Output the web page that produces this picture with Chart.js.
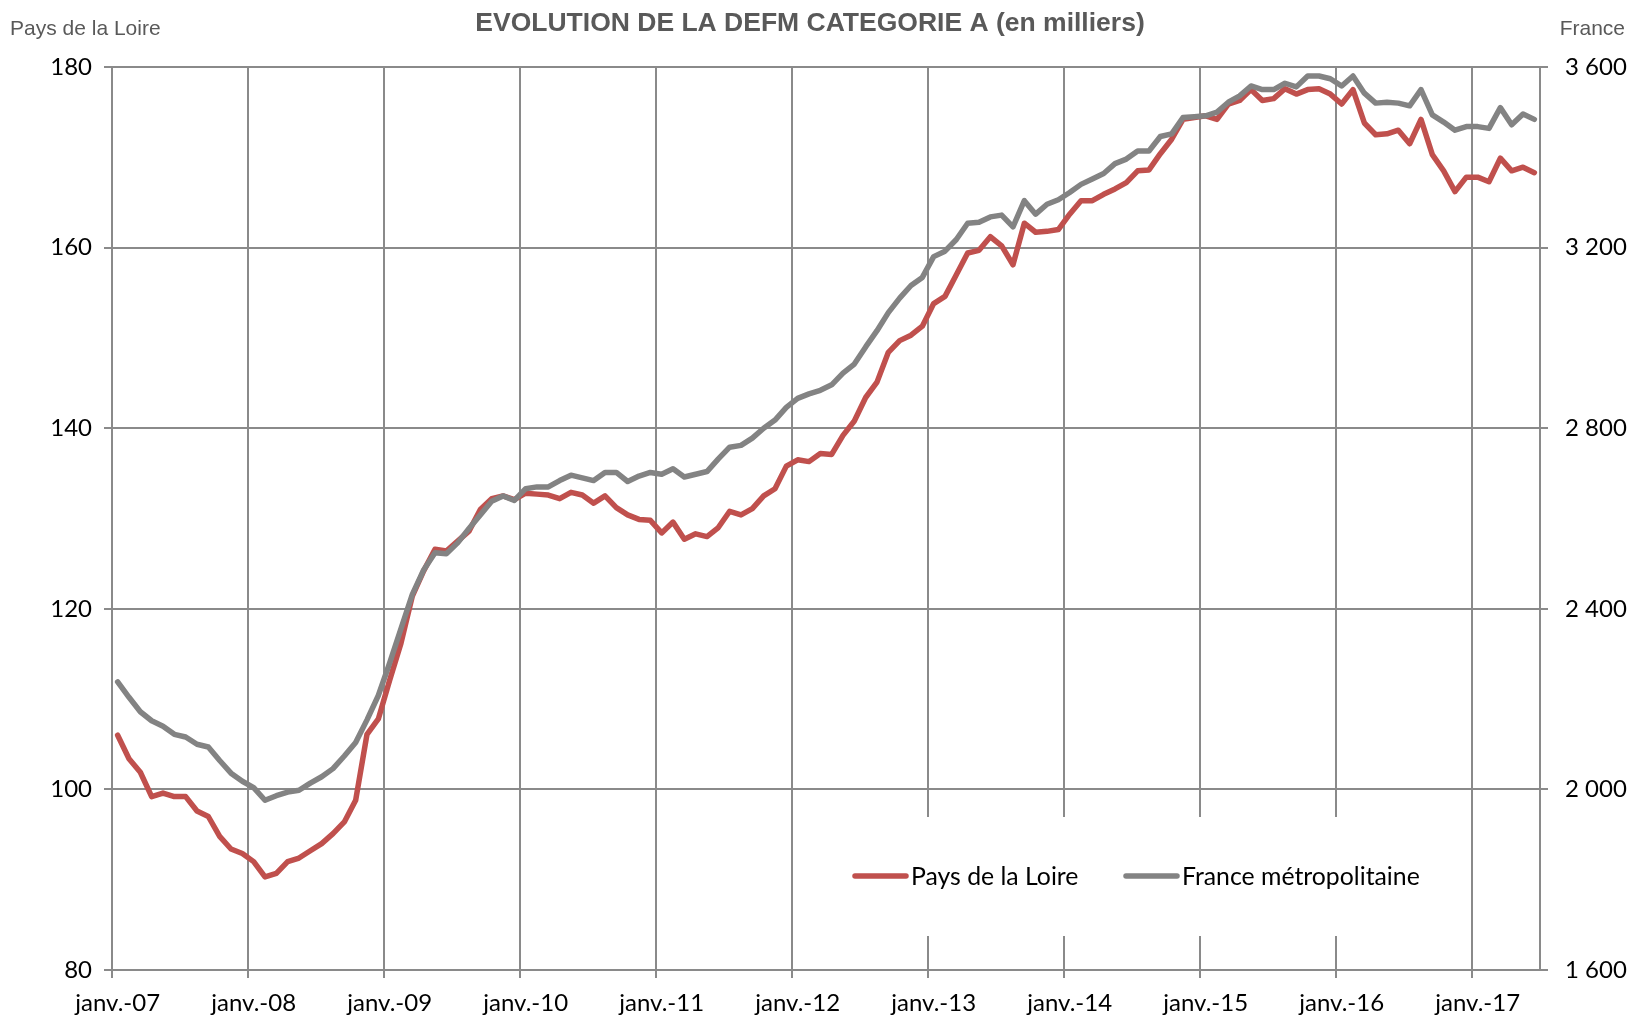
<!DOCTYPE html>
<html>
<head>
<meta charset="utf-8">
<script src="https://cdn.jsdelivr.net/npm/chart.js@4.4.1/dist/chart.umd.min.js"></script>
<style>
  html, body { margin: 0; padding: 0; background: #fff; }
  canvas { display: block; }
</style>
</head>
<body>
<canvas id="chart" width="1631" height="1017"></canvas>
<script>
// Month names and years used to build the category labels
const monthNames = ['janv.', 'févr.', 'mars', 'avr.', 'mai', 'juin', 'juil.', 'août', 'sept.', 'oct.', 'nov.', 'déc.'];
const yearSuffixes = ['07', '08', '09', '10', '11', '12', '13', '14', '15', '16', '17'];

// DEFM catégorie A, Pays de la Loire (milliers), janv.-07 to juin-17
const paysDeLaLoire = [
  106.0, 103.4, 101.9, 99.2, 99.6, 99.2, 99.2, 97.6, 97.0, 94.8, 93.4, 92.9,
  92.0, 90.3, 90.7, 92.0, 92.4, 93.2, 94.0, 95.1, 96.4, 98.8, 106.1, 107.8,
  112.1, 116.2, 121.4, 124.2, 126.6, 126.4, 127.5, 128.6, 131.0, 132.2, 132.5, 132.1,
  132.8, 132.7, 132.6, 132.2, 132.9, 132.6, 131.7, 132.5, 131.2, 130.4, 129.9, 129.8,
  128.4, 129.6, 127.7, 128.3, 128.0, 129.0, 130.8, 130.4, 131.1, 132.5, 133.3, 135.8,
  136.5, 136.3, 137.2, 137.1, 139.2, 140.8, 143.4, 145.1, 148.4, 149.7, 150.3, 151.3,
  153.8, 154.6, 157.0, 159.4, 159.7, 161.2, 160.2, 158.1, 162.7, 161.7, 161.8, 162.0,
  163.7, 165.2, 165.2, 165.9, 166.5, 167.2, 168.5, 168.6, 170.4, 172.0, 174.2, 174.4,
  174.6, 174.2, 175.9, 176.3, 177.5, 176.3, 176.5, 177.6, 177.0, 177.5, 177.6, 177.0,
  175.9, 177.5, 173.8, 172.5, 172.6, 173.0, 171.5, 174.2, 170.3, 168.5, 166.2, 167.8,
  167.8, 167.3, 169.9, 168.5, 168.9, 168.3
];

// DEFM catégorie A, France métropolitaine (milliers)
const franceMetro = [
  2238, 2204, 2172, 2152, 2140, 2122, 2116, 2100, 2094, 2064, 2036, 2018,
  2004, 1976, 1986, 1994, 1998, 2014, 2028, 2046, 2074, 2104, 2154, 2208,
  2280, 2356, 2432, 2486, 2524, 2522, 2546, 2578, 2608, 2638, 2650, 2640,
  2666, 2670, 2670, 2684, 2696, 2690, 2684, 2702, 2702, 2682, 2694, 2702,
  2698, 2710, 2692, 2698, 2704, 2732, 2758, 2762, 2778, 2800, 2818, 2846,
  2866, 2876, 2884, 2896, 2922, 2942, 2980, 3016, 3056, 3088, 3116, 3134,
  3180, 3192, 3218, 3254, 3256, 3268, 3272, 3246, 3304, 3274, 3296, 3306,
  3322, 3340, 3352, 3364, 3386, 3396, 3414, 3414, 3446, 3452, 3488, 3490,
  3492, 3500, 3522, 3536, 3558, 3550, 3550, 3564, 3556, 3580, 3580, 3574,
  3558, 3580, 3542, 3520, 3522, 3520, 3514, 3550, 3494, 3478, 3460, 3468,
  3468, 3464, 3510, 3472, 3496, 3484
];

// Axis tick values
const leftTicks = [80, 100, 120, 140, 160, 180];
const rightTicks = [1600, 2000, 2400, 2800, 3200, 3600];

const allMonths = [];
yearSuffixes.forEach(y => monthNames.forEach(m => allMonths.push(m + '-' + y)));
const months = allMonths.slice(0, paysDeLaLoire.length);

const RED = '#C0504D';
const GREY = '#838383';
const GRID = '#8a8a8a';
const TICK_FONT = { family: 'Lato', size: 24 };

function formatThousands(v) {
  return String(v).replace(/\B(?=(\d{3})+(?!\d))/g, ' ');
}

// Title, axis captions and the legend box drawn over the plot
const decorations = {
  id: 'decorations',
  afterDraw(chart) {
    const ctx = chart.ctx;
    ctx.save();
    ctx.fillStyle = '#595959';
    ctx.textBaseline = 'middle';
    ctx.font = 'bold 26.5px "Liberation Sans"';
    ctx.textAlign = 'center';
    ctx.fillText('EVOLUTION DE LA DEFM CATEGORIE A (en milliers)', 810, 24);

    ctx.font = '21px "Liberation Sans"';
    ctx.textAlign = 'left';
    ctx.fillText('Pays de la Loire', 10, 29);
    ctx.textAlign = 'right';
    ctx.fillText('France', 1625, 29);

    // legend
    ctx.fillStyle = '#fff';
    ctx.fillRect(832, 817, 624, 119);
    const items = [
      { label: 'Pays de la Loire', color: RED, x: 855 },
      { label: 'France métropolitaine', color: GREY, x: 1126 }
    ];
    ctx.lineWidth = 5.5;
    ctx.lineCap = 'round';
    ctx.font = '24.8px Lato';
    ctx.textAlign = 'left';
    items.forEach(it => {
      ctx.strokeStyle = it.color;
      ctx.beginPath();
      ctx.moveTo(it.x, 876);
      ctx.lineTo(it.x + 51, 876);
      ctx.stroke();
      ctx.fillStyle = '#000';
      ctx.fillText(it.label, it.x + 56, 877);
    });
    ctx.restore();
  }
};

new Chart(document.getElementById('chart'), {
  type: 'line',
  data: {
    labels: months,
    datasets: [
      {
        label: 'Pays de la Loire',
        data: paysDeLaLoire,
        yAxisID: 'y',
        borderColor: RED,
        borderWidth: 5.5,
        borderJoinStyle: 'round',
        borderCapStyle: 'round',
        pointRadius: 0,
        tension: 0,
        order: 2
      },
      {
        label: 'France métropolitaine',
        data: franceMetro,
        yAxisID: 'y1',
        borderColor: GREY,
        borderWidth: 5.5,
        borderJoinStyle: 'round',
        borderCapStyle: 'round',
        pointRadius: 0,
        tension: 0,
        order: 1
      }
    ]
  },
  options: {
    responsive: false,
    animation: false,
    layout: { padding: { top: 67, left: 0, right: 0, bottom: 0 } },
    plugins: {
      legend: { display: false },
      tooltip: { enabled: false }
    },
    scales: {
      x: {
        type: 'category',
        offset: true,
        afterFit: s => { s.height = 47; },
        grid: {
          offset: true,
          lineWidth: 2,
          tickLength: 8,
          color: c => (c.index !== undefined && c.index % 12 === 0) ? GRID : 'rgba(0,0,0,0)'
        },
        border: { display: true, color: GRID, width: 2 },
        ticks: {
          autoSkip: false,
          maxRotation: 0,
          minRotation: 0,
          padding: 11,
          color: '#000',
          font: TICK_FONT,
          callback: (v, i) => (i % 12 === 0 ? months[i] : '')
        }
      },
      y: {
        position: 'left',
        min: leftTicks[0],
        max: leftTicks[leftTicks.length - 1],
        afterFit: s => { s.width = 112; },
        afterBuildTicks: s => { s.ticks = leftTicks.map(v => ({ value: v })); },
        grid: { color: GRID, lineWidth: 2, tickLength: 8 },
        border: { display: true, color: GRID, width: 2 },
        ticks: { padding: 12, color: '#000', font: TICK_FONT }
      },
      y1: {
        position: 'right',
        min: rightTicks[0],
        max: rightTicks[rightTicks.length - 1],
        afterFit: s => { s.width = 91; },
        afterBuildTicks: s => { s.ticks = rightTicks.map(v => ({ value: v })); },
        grid: { drawOnChartArea: false, color: GRID, lineWidth: 2, tickLength: 8 },
        border: { display: true, color: GRID, width: 2 },
        ticks: { padding: 17, color: '#000', font: TICK_FONT, callback: v => formatThousands(v) }
      }
    }
  },
  plugins: [decorations]
});
</script>
</body>
</html>
